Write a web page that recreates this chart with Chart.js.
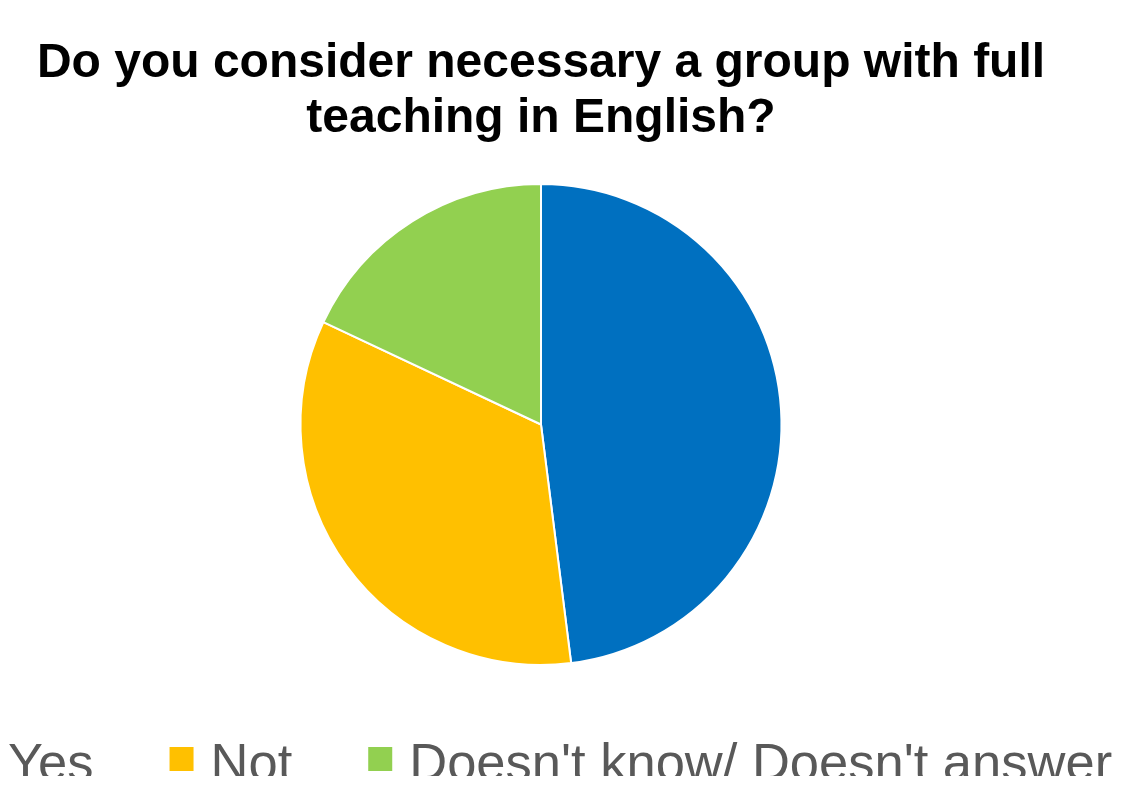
<!DOCTYPE html>
<html>
<head>
<meta charset="utf-8">
<script src="https://cdn.jsdelivr.net/npm/chart.js@4.4.0/dist/chart.umd.min.js"></script>
<style>
  html, body { margin: 0; padding: 0; background: #fff; }
  #wrap { width: 1124px; height: 787px; overflow: hidden; }
  canvas { display: block; }
</style>
</head>
<body>
<div id="wrap"><canvas id="pie" width="1124" height="776"></canvas></div>
<script>
// données du graphique
const titleLines = ['Do you consider necessary a group with full', 'teaching in English?'];
const categories = ['Yes', 'Not', "Doesn't know/ Doesn't answer"];
const values = [48, 34, 18];
const colors = ['#0070C0', '#FFC000', '#92D050'];

const FONT = '"Liberation Sans", Arial, Helvetica, sans-serif';

// légende maison : une seule ligne centrée, plus large que le canvas
const bottomLegend = {
  id: 'bottomLegend',
  afterDraw(chart) {
    const ctx = chart.ctx;
    const area = chart.chartArea;
    const cx = (area.left + area.right) / 2 - 1.5;
    const box = 24, gap = 17, spacing = 76;
    ctx.save();
    ctx.font = '52.5px ' + FONT;
    const widths = chart.data.labels.map(l => ctx.measureText(l).width);
    let total = widths.reduce((a, b) => a + b, 0) + widths.length * (box + gap) + (widths.length - 1) * spacing;
    let x = cx - total / 2;
    const boxTop = 747;
    const baseline = 780;
    chart.data.labels.forEach((label, i) => {
      ctx.fillStyle = chart.data.datasets[0].backgroundColor[i];
      ctx.fillRect(x, boxTop, box, box);
      x += box + gap;
      ctx.fillStyle = '#595959';
      ctx.textBaseline = 'alphabetic';
      ctx.fillText(label, x, baseline);
      x += widths[i] + spacing;
    });
    ctx.restore();
  }
};

new Chart(document.getElementById('pie'), {
  type: 'pie',
  data: {
    labels: categories,
    datasets: [{
      data: values,
      backgroundColor: colors,
      borderColor: '#ffffff',
      borderWidth: 2
    }]
  },
  options: {
    responsive: false,
    animation: false,
    devicePixelRatio: 1,
    layout: { padding: { left: 0, right: 42, top: 0, bottom: 110 } },
    plugins: {
      legend: { display: false },
      tooltip: { enabled: false },
      title: {
        display: true,
        text: titleLines,
        color: '#000000',
        font: { family: FONT, size: 48, weight: 'bold', lineHeight: 1.146 },
        padding: { top: 36, bottom: 37 }
      }
    }
  },
  plugins: [bottomLegend]
});
</script>
</body>
</html>
